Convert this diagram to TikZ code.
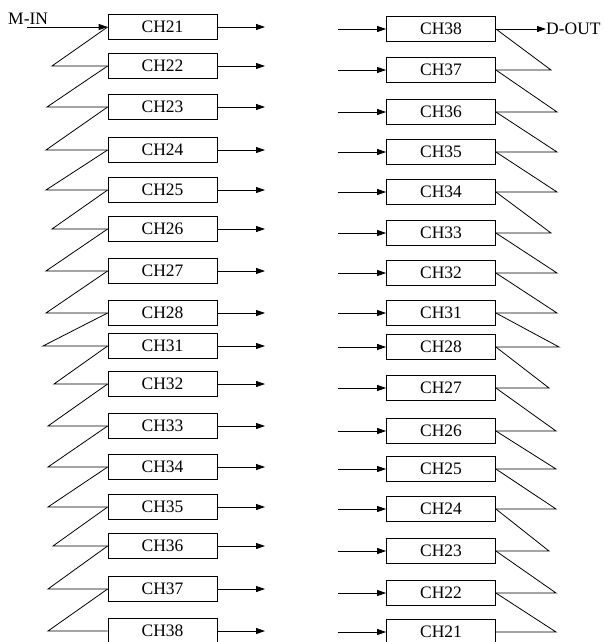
\documentclass[tikz,border=0pt]{standalone}
\usepackage{fontspec}
\setmainfont{Liberation Serif}
\usetikzlibrary{arrows.meta}
\begin{document}
\begin{tikzpicture}[x=1pt,y=-1pt,
  chbox/.style={draw,line width=0.8pt,minimum width=109pt,minimum height=25pt,inner sep=0pt,font=\fontsize{17.5}{18}\selectfont},
  lbl/.style={inner sep=0pt,font=\fontsize{17.5}{18}\selectfont},
  wire/.style={line width=0.8pt},
  arr/.style={line width=0.8pt,-{Triangle[length=9pt,width=6pt]}}]
\useasboundingbox (0,0) rectangle (603,642);
\clip (0,0) rectangle (603,642);
% left column
\foreach \n/\y [count=\i] in {21/27,22/66,23/107,24/150,25/190,26/229,27/271,28/313,31/346,32/384,33/426,34/467,35/507,36/546,37/589,38/631}{
  \node[chbox] (L\i) at (162.5,\y) {CH\n};
  \coordinate (LO\i) at (265,\y);
  \draw[arr] (L\i.east) -- (LO\i);
}
\foreach \i/\x/\y in {2/52/66,3/47/107,4/46/150,5/46/190,6/52/229,7/46/271,8/46/313,9/43/346,10/54/384,11/48/426,12/48/467,13/48/507,14/53/546,15/48/589,16/48/631}{
  \pgfmathtruncatemacro{\p}{\i-1}
  \coordinate (LT\i) at (\x,\y);
  \draw[wire] (L\p.west) -- (LT\i) -- (L\i.west);
}
\coordinate (MIN) at (27,27);
\draw[arr] (MIN) -- (L1.west);
\node[lbl,anchor=base west] (min) at (8,25) {M-IN};
% right column
\foreach \n/\y [count=\i] in {38/29,37/70,36/112,35/152,34/192,33/233,32/273,31/313,28/347,27/388,26/431,25/469,24/509,23/551,22/593,21/632}{
  \node[chbox] (R\i) at (441,\y) {CH\n};
  \coordinate (RI\i) at (338,\y);
  \draw[arr] (RI\i) -- (R\i.west);
}
\foreach \i/\x/\y in {2/551/70,3/557/112,4/557/152,5/557/192,6/551/233,7/557/273,8/557/313,9/559/347,10/549/388,11/556/431,12/556/469,13/556/509,14/549/551,15/556/593,16/556/632}{
  \pgfmathtruncatemacro{\p}{\i-1}
  \coordinate (RT\i) at (\x,\y);
  \draw[wire] (R\p.east) -- (RT\i) -- (R\i.east);
}
\node[lbl,anchor=west] (dout) at (546,29) {D-OUT};
\draw[arr] (R1.east) -- (dout.west);
\end{tikzpicture}
\end{document}
